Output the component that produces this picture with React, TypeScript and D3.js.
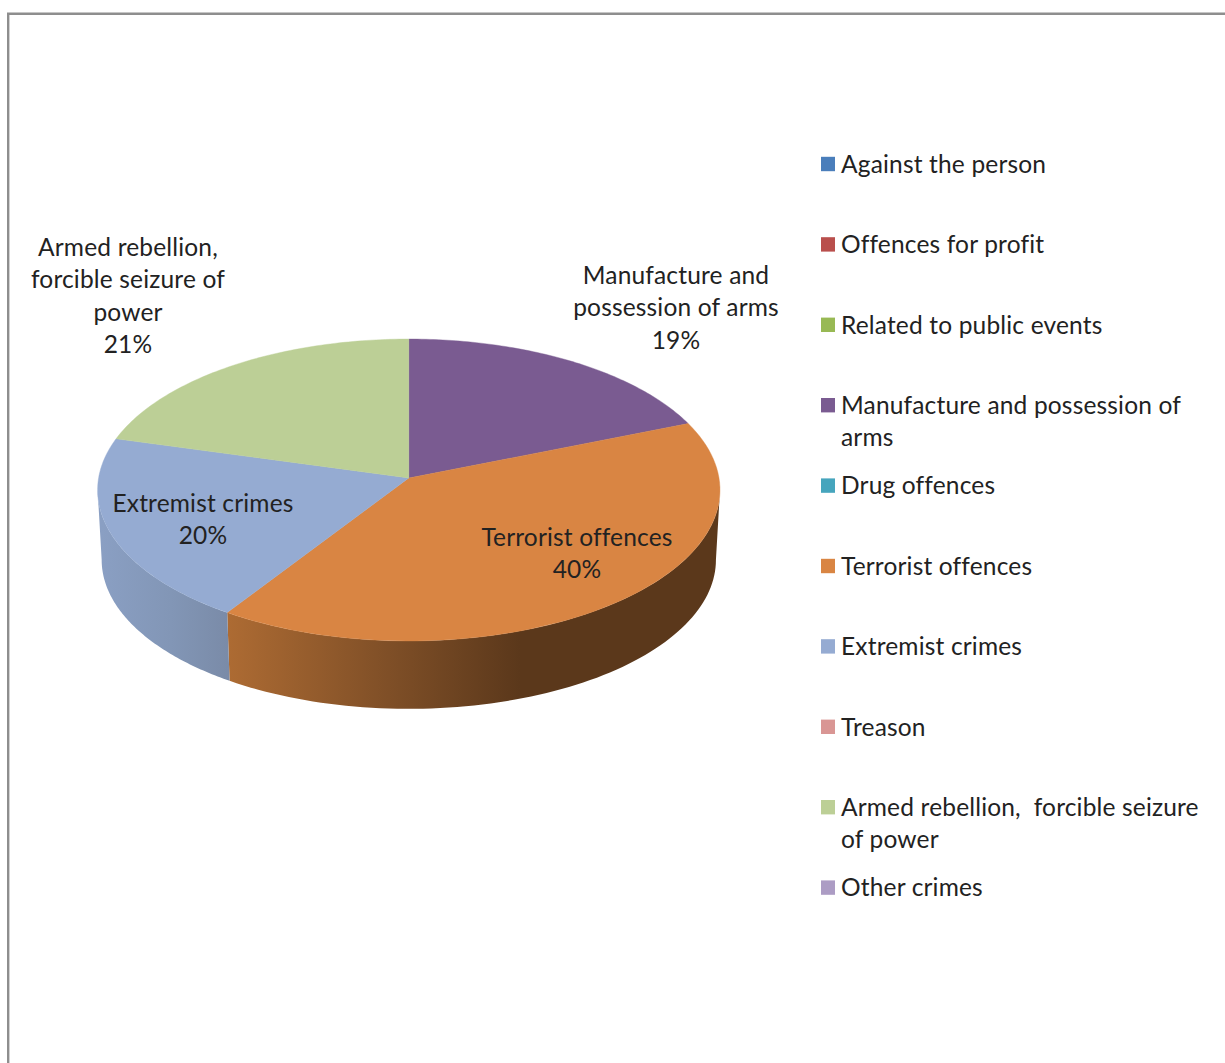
import React from "react";
import * as d3 from "d3";

const categories = [
  "Against the person",
  "Offences for profit",
  "Related to public events",
  "Manufacture and possession of arms",
  "Drug offences",
  "Terrorist offences",
  "Extremist crimes",
  "Treason",
  "Armed rebellion,  forcible seizure of power",
  "Other crimes",
];
const values = [0, 0, 0, 18.9, 0, 40.3, 20.1, 0, 20.7, 0];
const topColors = ["#4a7ebb", "#b94f4c", "#98b954", "#7a5b91", "#46a5bd", "#d98543", "#95abd2", "#d99694", "#bccf96", "#ac9cc4"];
const legendLines = [
  ["Against the person"],
  ["Offences for profit"],
  ["Related to public events"],
  ["Manufacture and possession of", "arms"],
  ["Drug offences"],
  ["Terrorist offences"],
  ["Extremist crimes"],
  ["Treason"],
  ["Armed rebellion,  forcible seizure", "of power"],
  ["Other crimes"],
];
const sliceLabels = [
  { cat: 3, lines: ["Manufacture and", "possession of arms"], x: 676, y: 284 },
  { cat: 5, lines: ["Terrorist offences"], x: 577, y: 546 },
  { cat: 6, lines: ["Extremist crimes"], x: 203, y: 512 },
  { cat: 8, lines: ["Armed rebellion,", "forcible seizure of", "power"], x: 128, y: 256 },
];
const sideGradients = [
  { cat: 5, id: "side-orange", x1: 228, x2: 520, from: "#ad6b33", mid: "#7f4f27", to: "#5b381b" },
  { cat: 6, id: "side-blue", x1: 101, x2: 228, from: "#8a9fc3", mid: "#8296b6", to: "#7a8ba8" },
];

const FONT = "Lato, Carlito, Calibri, sans-serif";
const FS = 24.5;
const LETTER = 0.17;
const LINE = 32.3;

// Perspective projection of the unit disc on the picture plane
const tilt = 0.0795;
const project = (a: number, scale = 1, drop = 0): [number, number] => {
  const u = Math.sin(a);
  const v = -Math.cos(a);
  const w = 1 - tilt * v;
  return [408.8 + (310.2 * scale * u) / w, 478 + drop + (150 * scale * v) / w];
};
const rimSamples = (a0: number, a1: number, scale = 1, drop = 0) =>
  d3.range(0, 81).map((i) => project(a0 + ((a1 - a0) * i) / 80, scale, drop));

const line = d3.line<[number, number]>();
const arcs = d3.pie<number>().sort(null).value((d) => d)(values);
const visibleA = Math.PI / 2 + Math.asin(tilt);
const visibleB = (3 * Math.PI) / 2 - Math.asin(tilt);

export default function App() {
  const pct = d3.format(".0f");
  const total = d3.sum(values);
  return (
    <svg
      width={1225}
      height={1063}
      viewBox="0 0 1225 1063"
      style={{ position: "absolute", left: 0, top: 0, background: "#fff" }}
      fontFamily={FONT}
      fontSize={FS}
      letterSpacing={LETTER}
      fill="#222"
    >
      <defs>
        {sideGradients.map((g) => (
          <linearGradient key={g.id} id={g.id} gradientUnits="userSpaceOnUse" x1={g.x1} x2={g.x2} y1={0} y2={0}>
            <stop offset="0" stopColor={g.from} />
            <stop offset="0.55" stopColor={g.mid} />
            <stop offset="1" stopColor={g.to} />
          </linearGradient>
        ))}
      </defs>
      <path d="M8.2 1063V13.8H1225" fill="none" stroke="#8e8e8e" strokeWidth={2.4} />

      {/* sides */}
      {sideGradients.map((g) => {
        const arc = arcs[g.cat];
        const a0 = Math.max(arc.startAngle, visibleA);
        const a1 = Math.min(arc.endAngle, visibleB);
        const top = rimSamples(a0, a1);
        const bottom = rimSamples(a0, a1, 0.987, 70).reverse();
        return <path key={g.id} d={line([...top, ...bottom]) + "Z"} fill={`url(#${g.id})`} />;
      })}

      {/* top faces */}
      {arcs.map((arc, i) =>
        arc.value > 0 ? (
          <path
            key={i}
            d={line([[408.8, 478], ...rimSamples(arc.startAngle, arc.endAngle)]) + "Z"}
            fill={topColors[i]}
            stroke={topColors[i]}
            strokeWidth={0.4}
          />
        ) : null
      )}

      {/* slice labels */}
      {sliceLabels.map((l) => (
        <text key={l.cat} textAnchor="middle" x={l.x} y={l.y}>
          {l.lines.map((t, j) => (
            <tspan key={j} x={l.x} dy={j === 0 ? 0 : LINE}>
              {t}
            </tspan>
          ))}
          <tspan x={l.x} dy={LINE}>
            {pct((values[l.cat] / total) * 100)}%
          </tspan>
        </text>
      ))}

      {/* legend */}
      {categories.map((c, i) => {
        const cy = 164 + 80.4 * i;
        return (
          <g key={c}>
            <rect x={821} y={cy - 7.2} width={14} height={14.4} fill={topColors[i]} />
            <text x={841} y={cy + 8.8} xmlSpace="preserve">
              {legendLines[i].map((t, j) => (
                <tspan key={j} x={841} dy={j === 0 ? 0 : LINE} xmlSpace="preserve">
                  {t}
                </tspan>
              ))}
            </text>
          </g>
        );
      })}
    </svg>
  );
}
